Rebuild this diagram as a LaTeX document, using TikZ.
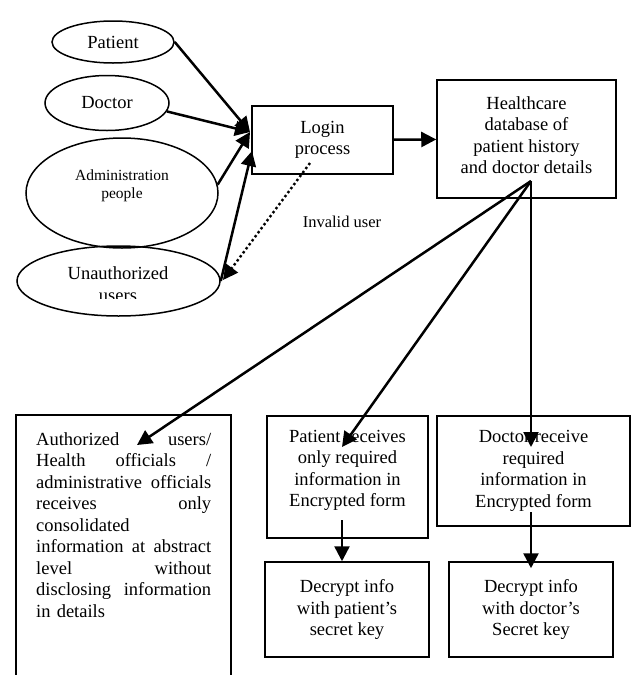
\documentclass[tikz,border=0pt]{standalone}
\usepackage{fontspec}
\setmainfont{Liberation Serif}
\usetikzlibrary{arrows.meta,shapes.geometric}
\newcommand\jsp{\hskip 0pt plus 1fill\relax}

\begin{document}
\begin{tikzpicture}[x=1pt,y=-1pt,
  actor/.style={ellipse,draw,line width=1.5pt,inner sep=0pt,align=center,font=\fontsize{18.5}{21.5}\selectfont},
  box/.style={rectangle,draw,line width=1.5pt,inner sep=0pt,align=center,font=\fontsize{18.5}{21.5}\selectfont},
  arr/.style={-{Triangle[length=15pt,width=15pt]},line width=2.5pt},
  dotarr/.style={-{Triangle[length=15pt,width=15pt]},line width=2.4pt,dash pattern=on 2.4pt off 2.6pt}]
\useasboundingbox (0,0) rectangle (633,675);
\node[actor,minimum width=122pt,minimum height=42pt] (pat) at (113,42) {Patient};
\node[actor,minimum width=124pt,minimum height=55pt] (doc) at (107,103) {Doctor};
\node[actor,minimum width=192pt,minimum height=110pt,text depth=17pt,font=\fontsize{15.5}{18}\selectfont] (adm) at (122,193) {Administration\\people};
\node[actor,minimum width=203pt,minimum height=70pt] (unau) at (118.5,281) {};
\begin{scope}
\clip (0,0) rectangle (633,298);
\node[font=\fontsize{18.5}{21.5}\selectfont,align=center] (unautxt) at (118,284) {Unauthorized\\users};
\end{scope}
\node[box,minimum width=141pt,minimum height=68pt] (login) at (322.5,140) {Login\\process};
\node[box,minimum width=179pt,minimum height=118pt,text depth=8pt] (hdb) at (526.5,139) {Healthcare\\database of\\patient history\\and doctor details};
\node[font=\fontsize{16.5}{20}\selectfont] (inval) at (342,222) {Invalid user};
\coordinate (lin) at (250,132);
\coordinate (lin2) at (252,151);
\coordinate (lout) at (310,163);
\coordinate (uin) at (223,280);
\draw[arr] (pat.east) -- (lin);
\draw[arr] (doc.-8) -- (lin);
\draw[arr] (adm.5) -- (lin);
\draw[arr] (unau.east) -- (lin2);
\draw[dotarr] (lout) -- (uin);
\draw[arr] (login) -- (hdb);
\draw[line width=1.5pt] (16,675) -- (16,415) -- (231,415) -- (231,675);
\node[anchor=north west,text width=175pt,inner sep=0pt,align=left,font=\fontsize{18.5}{21.5}\selectfont] (auth) at (36,432)
  {Authorized \jsp users/\\
   Health \jsp officials \jsp /\\
   administrative \jsp officials\\
   receives \jsp only\\
   consolidated\\
   information \jsp at \jsp abstract\\
   level \jsp without\\
   disclosing \jsp information\\
   in details};
\node[box,minimum width=161pt,minimum height=122pt,text depth=17pt] (prec) at (347.5,477) {Patient receives\\only required\\information in\\Encrypted form};
\node[box,minimum width=193pt,minimum height=110pt] (drec) at (533.5,471) {Doctor receive\\required\\information in\\Encrypted form};
\node[box,minimum width=164pt,minimum height=95pt] (pdec) at (347,609.5) {Decrypt info\\with patient's\\secret key};
\node[box,minimum width=164pt,minimum height=95pt] (ddec) at (531,609.5) {Decrypt info\\with doctor's\\Secret key};
\coordinate (hsrc) at (531,181);
\coordinate (authin) at (137,445);
\coordinate (precin) at (342,447);
\coordinate (drecin) at (531,447);
\coordinate (precout) at (342,520);
\coordinate (drecout) at (531,512);
\draw[arr] (hsrc) -- (authin);
\draw[arr] (hsrc) -- (precin);
\draw[arr] (hsrc) -- (drecin);
\draw[arr] (precout) -- (precout |- pdec.north);
\draw[arr] (drecout) -- ([yshift=-7pt]drecout |- ddec.north);
\end{tikzpicture}
\end{document}
